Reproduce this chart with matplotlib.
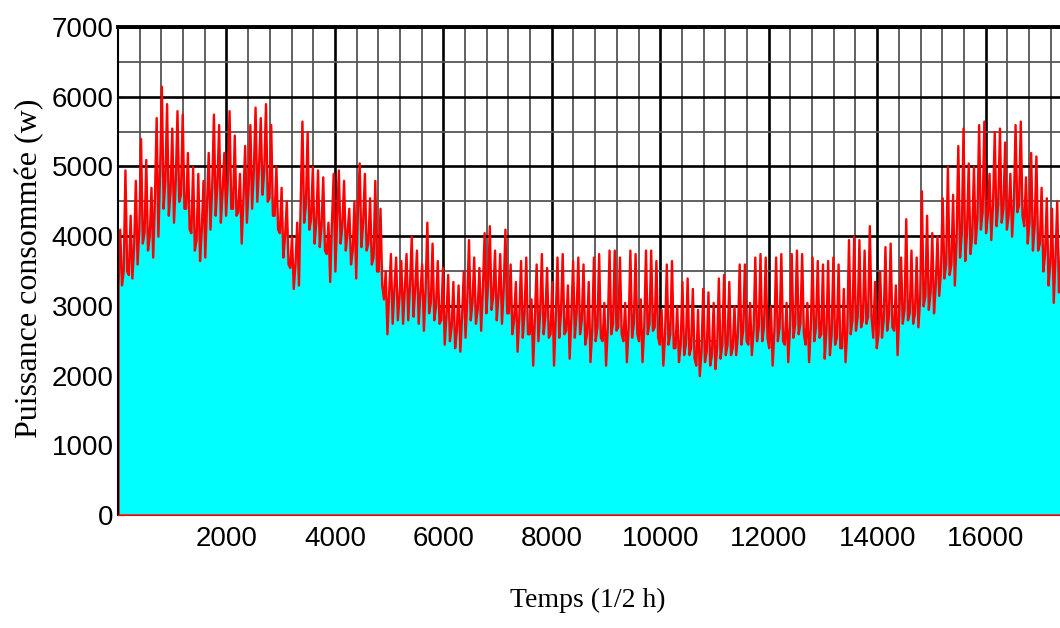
import numpy as np
import matplotlib.pyplot as plt

# consumed power (W) per 2-day block (96 half-hours):
# highest daytime peak, usual night level and deepest dip
peak_w = [
    4100, 4950, 4300, 4800, 5400, 5100, 4700, 5700, 6150, 5900,
    5550, 5800, 5750, 5200, 5000, 4900, 4800, 5200, 5750, 5600,
    5200, 5800, 5450, 4900, 5300, 5600, 5850, 5700, 5900, 5600,
    5000, 4700, 4500, 4000, 4200, 5650, 5500, 5000, 4950, 4850,
    4200, 4900, 4950, 4800, 4400, 4500, 5050, 4900, 4550, 4800,
    4400, 3500, 3750, 3700, 3650, 3750, 4000, 3800, 3600, 4200,
    3900, 3650, 3550, 3450, 3350, 3300, 3500, 3950, 3700, 3550,
    4050, 4150, 3800, 3750, 4100, 3600, 3350, 3650, 3700, 3100,
    3600, 3750, 3550, 3350, 3700, 3750, 3300, 3650, 3700, 3600,
    3350, 3700, 3750, 3050, 3800, 3800, 3700, 3050, 3800, 3750,
    3100, 3800, 3800, 3650, 2950, 3600, 3650, 3000, 3350, 3400,
    3250, 2950, 3250, 3200, 3050, 3400, 3450, 3350, 3000, 3600,
    3600, 3050, 3700, 3750, 3700, 3000, 3700, 3750, 3050, 3750,
    3800, 3750, 3050, 3700, 3650, 3600, 3650, 3700, 3600, 3250,
    3950, 4000, 3950, 3800, 4150, 3350, 3500, 3850, 3900, 3300,
    3700, 4250, 3800, 3700, 4650, 4300, 4050, 4000, 4550, 5000,
    4600, 5300, 5550, 5050, 5000, 5600, 5650, 4900, 5500, 5550,
    5350, 4900, 5600, 5650, 4850, 5200, 5150, 4700, 4550, 4400,
    4500, 4500, 4400,
]
night_w = [
    3300, 3500, 3450, 3850, 4100, 4050, 4000, 4550, 4950, 4800,
    4650, 4800, 4600, 4400, 4050, 3950, 4100, 4450, 4700, 4750,
    4650, 4800, 4400, 4350, 4550, 4700, 4950, 5000, 4950, 4550,
    4300, 4050, 4000, 3550, 3600, 4500, 4450, 4250, 4200, 4150,
    3750, 4200, 4250, 4150, 4050, 3800, 4400, 4200, 3900, 3700,
    3500, 3100, 3200, 3250, 3150, 3250, 3300, 3250, 3200, 3250,
    3050, 3000, 2800, 2850, 2700, 2650, 2850, 3100, 3050, 2950,
    3250, 3300, 3150, 3150, 3250, 2900, 2800, 2850, 2900, 2600,
    2850, 2900, 2850, 2600, 2850, 2900, 2650, 2850, 2900, 2800,
    2600, 2650, 2700, 2500, 2700, 2750, 2700, 2500, 2700, 2750,
    2500, 2700, 2750, 2700, 2450, 2600, 2600, 2400, 2450, 2450,
    2400, 2150, 2350, 2350, 2300, 2400, 2450, 2450, 2400, 2600,
    2650, 2450, 2650, 2700, 2700, 2400, 2650, 2700, 2450, 2700,
    2750, 2750, 2450, 2700, 2700, 2600, 2650, 2600, 2550, 2400,
    2650, 2800, 2850, 2800, 2850, 2550, 2600, 2800, 2850, 2650,
    2900, 2950, 2900, 2900, 3100, 3150, 3200, 3300, 3500, 3600,
    3600, 3950, 4050, 4050, 4000, 4250, 4350, 4300, 4450, 4450,
    4400, 4300, 4450, 4450, 4150, 4200, 4150, 3900, 3750, 3600,
    3700, 3600, 3550,
]
dip_w = [
    3300, 3500, 3400, 3600, 3900, 3800, 3700, 4000, 4400, 4300,
    4200, 4500, 4400, 4100, 3800, 3650, 3700, 4100, 4300, 4200,
    4300, 4400, 4300, 3900, 4200, 4400, 4500, 4600, 4500, 4300,
    4100, 3700, 3600, 3250, 3300, 4200, 4100, 3900, 3850, 3800,
    3350, 3500, 3900, 3800, 3600, 3400, 3850, 3800, 3600, 3500,
    3300, 2600, 2750, 2800, 2750, 2800, 2850, 2750, 2650, 2900,
    2800, 2750, 2450, 2500, 2400, 2350, 2550, 2800, 2750, 2650,
    2900, 2950, 2800, 2750, 2900, 2600, 2350, 2550, 2600, 2150,
    2500, 2600, 2550, 2150, 2550, 2600, 2250, 2550, 2600, 2450,
    2200, 2500, 2550, 2150, 2600, 2650, 2600, 2200, 2550, 2600,
    2200, 2600, 2650, 2550, 2150, 2450, 2400, 2200, 2300, 2300,
    2250, 2000, 2200, 2150, 2100, 2250, 2300, 2300, 2300, 2450,
    2500, 2300, 2500, 2500, 2550, 2150, 2500, 2500, 2200, 2550,
    2600, 2600, 2200, 2500, 2550, 2250, 2300, 2450, 2400, 2200,
    2600, 2650, 2700, 2750, 2850, 2400, 2550, 2650, 2700, 2300,
    2750, 2800, 2750, 2700, 3000, 2950, 2900, 3150, 3400, 3450,
    3300, 3700, 3650, 3750, 3900, 4100, 4050, 3950, 4150, 4200,
    4100, 4000, 4350, 4300, 3900, 3800, 3800, 3500, 3300, 3050,
    3200, 3100, 3100,
]
x_ticks = [2000, 4000, 6000, 8000, 10000, 12000, 14000, 16000]
y_ticks = [0, 1000, 2000, 3000, 4000, 5000, 6000, 7000]
n_halfhours = 17520

# night level, peak, dip: 32 half-hours apart inside each block
t = np.arange(3 * len(peak_w)) * 32
power = np.column_stack([night_w, peak_w, dip_w]).ravel()

fig = plt.figure(figsize=(10.6, 6.28), dpi=100)
ax = fig.add_axes([118 / 1060, 113 / 628, 950 / 1060, 488 / 628])

ax.fill_between(t, power, 0, facecolor='cyan', edgecolor='red', linewidth=1.7)

ax.set_xlim(0, n_halfhours)
ax.set_ylim(0, 7000)
ax.set_xticks(x_ticks)
ax.set_yticks(y_ticks)
ax.set_xticks(np.arange(0, n_halfhours, 400), minor=True)
ax.set_yticks(np.arange(0, 7001, 500), minor=True)
ax.set_axisbelow(True)
ax.grid(which='minor', color='#555555', linewidth=1.3)
ax.grid(which='major', color='black', linewidth=1.9)

ax.tick_params(which='major', direction='in', length=4, top=True, right=False,
               labelsize=20, colors='black')
ax.tick_params(which='minor', length=0)
ax.tick_params(axis='x', pad=8)
ax.tick_params(axis='y', pad=3)
for lab in ax.get_xticklabels() + ax.get_yticklabels():
    lab.set_family('Liberation Sans')

ax.spines['top'].set_linewidth(2.8)
ax.spines['left'].set_linewidth(1.5)
ax.spines['bottom'].set_color('red')
ax.spines['right'].set_visible(False)

fig.text(30 / 1060, 1 - 268 / 628, 'Puissance consommée (w)', rotation=90,
         ha='center', va='center', family='Liberation Serif', fontsize=23)
fig.text(588 / 1060, 1 - 600 / 628, 'Temps (1/2 h)',
         ha='center', va='center', family='Liberation Serif', fontsize=20)

fig.savefig('out.png', dpi=100)
